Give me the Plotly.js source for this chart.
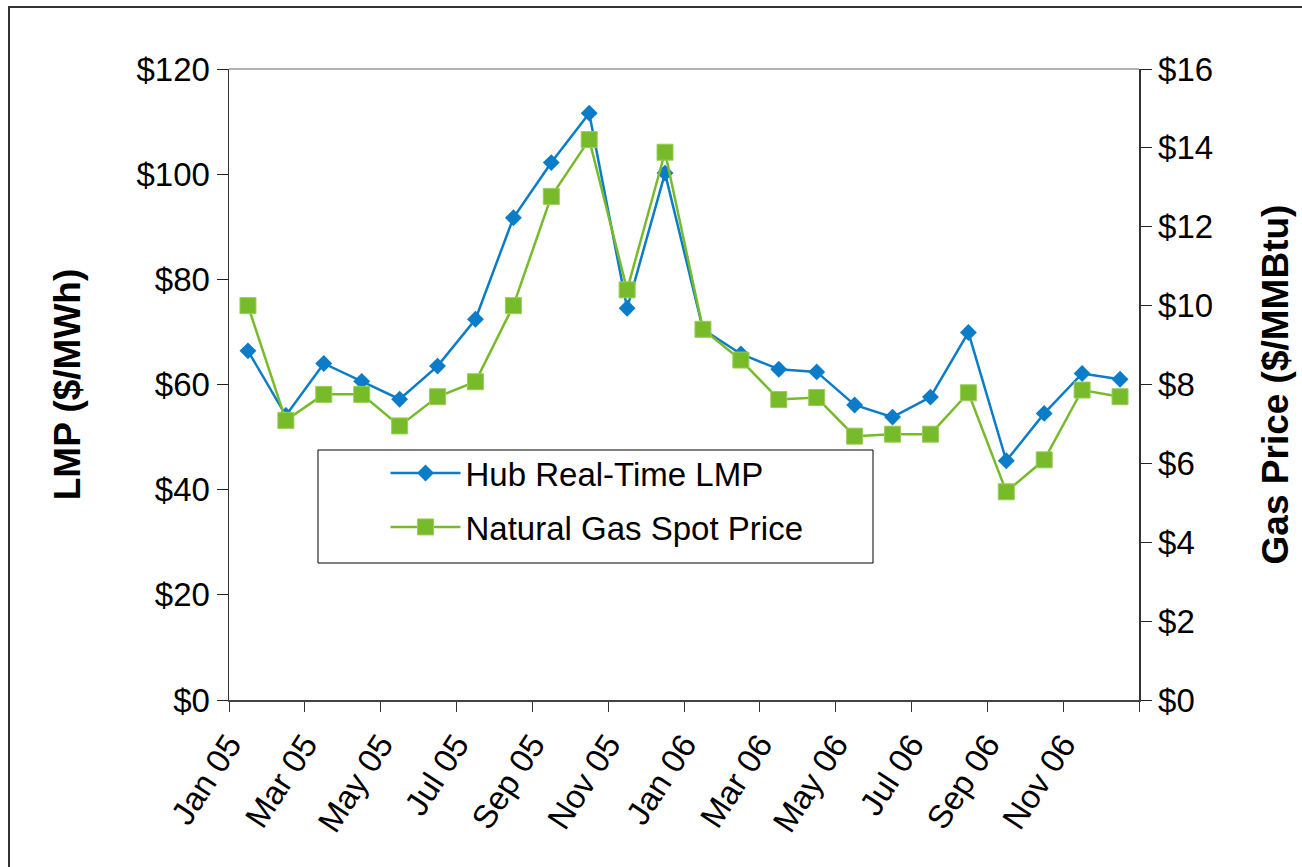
<!DOCTYPE html>
<html>
<head>
<meta charset="utf-8">
<script src="https://cdn.plot.ly/plotly-3.0.1.min.js"></script>
<style>
  html, body { margin: 0; padding: 0; background: #fff; }
  #wrap { position: relative; width: 1302px; height: 867px; overflow: hidden; }
  #frame { position: absolute; left: 8px; top: 6px; width: 1400px; height: 1000px;
           border-left: 2px solid #333; border-top: 2px solid #333; pointer-events: none; }
  #chart { position: absolute; left: 0; top: 0; width: 1302px; height: 867px; }
</style>
</head>
<body>
<div id="wrap">
  <div id="chart"></div>
  <div id="frame"></div>
</div>
<script>
// Monthly categories (Jan 05 .. Dec 06)
const months = ["Jan 05","Feb 05","Mar 05","Apr 05","May 05","Jun 05","Jul 05","Aug 05","Sep 05","Oct 05","Nov 05","Dec 05",
                "Jan 06","Feb 06","Mar 06","Apr 06","May 06","Jun 06","Jul 06","Aug 06","Sep 06","Oct 06","Nov 06","Dec 06"];
// Hub Real-Time LMP ($/MWh)
const lmp = [66.4, 54.1, 64.0, 60.6, 57.2, 63.5, 72.4, 91.7, 102.2, 111.6, 74.5, 100.2,
             70.5, 65.8, 62.9, 62.4, 56.1, 53.8, 57.6, 69.9, 45.5, 54.5, 62.1, 61.0];
// Natural Gas Spot Price ($/MMBtu)
const gas = [10.0, 7.09, 7.75, 7.75, 6.95, 7.69, 8.07, 10.0, 12.77, 14.21, 10.40, 13.89,
             9.40, 8.62, 7.62, 7.67, 6.69, 6.74, 6.74, 7.79, 5.28, 6.09, 7.86, 7.69];
// Tick labels shown every second month
const tickLabels = ["Jan 05","Mar 05","May 05","Jul 05","Sep 05","Nov 05","Jan 06","Mar 06","May 06","Jul 06","Sep 06","Nov 06"];

const xPos = months.map((m, i) => i + 0.5);
const tickVals = tickLabels.map(t => months.indexOf(t)).concat([months.length]);
const tickText = tickLabels.concat([""]);

const FONT = "Liberation Sans, Arial, sans-serif";
const BLUE = "#0A7CC8";
const GREEN = "#77BB2B";

const traces = [
  {
    x: xPos, y: lmp, name: "Hub Real-Time LMP", type: "scatter", mode: "lines+markers",
    yaxis: "y", legendgroup: "a",
    line: { color: BLUE, width: 2.5 },
    marker: { symbol: "diamond", size: 13, color: BLUE }
  },
  {
    x: xPos, y: gas, name: "Natural Gas Spot Price", type: "scatter", mode: "lines+markers",
    yaxis: "y2", legendgroup: "b",
    line: { color: GREEN, width: 2.5 },
    marker: { symbol: "square", size: 16, color: GREEN, line: { color: "#9ACD5A", width: 1 } }
  }
];

const layout = {
  width: 1302, height: 867,
  margin: { l: 229, r: 163, t: 69, b: 167 },
  paper_bgcolor: "#fff", plot_bgcolor: "#fff",
  font: { family: FONT, size: 33, color: "#000" },
  showlegend: true,
  legend: {
    x: 0.172, y: 0.404, xanchor: "left", yanchor: "top",
    bgcolor: "rgba(0,0,0,0)", borderwidth: 0,
    font: { family: FONT, size: 33, color: "#000" },
    tracegroupgap: 8,
    itemwidth: 70
  },
  xaxis: {
    range: [0, months.length], fixedrange: true,
    tickmode: "array", tickvals: tickVals, ticktext: tickText,
    tickangle: -57, ticks: "outside", ticklen: 10, tickcolor: "#333", tickwidth: 1,
    showline: true, linecolor: "#444", linewidth: 2,
    showgrid: false, zeroline: false,
    tickfont: { family: FONT, size: 33, color: "#000" }
  },
  yaxis: {
    range: [0, 120], dtick: 20, tick0: 0, tickprefix: "$",
    ticks: "outside", ticklen: 11, tickcolor: "#222", tickwidth: 1,
    showline: true, linecolor: "#333", linewidth: 1.5,
    showgrid: false, zeroline: false,
    tickfont: { family: FONT, size: 33, color: "#000" },
    title: { text: "<b>LMP ($/MWh)</b>", font: { family: FONT, size: 37, color: "#000" }, standoff: 44 }
  },
  yaxis2: {
    range: [0, 16], dtick: 2, tick0: 0, tickprefix: "$",
    overlaying: "y", side: "right",
    ticks: "outside", ticklen: 11, tickcolor: "#222", tickwidth: 1,
    showline: true, linecolor: "#333", linewidth: 1.5,
    showgrid: false, zeroline: false,
    tickfont: { family: FONT, size: 33, color: "#000" },
    title: { text: "<b>Gas Price ($/MMBtu)</b>", font: { family: FONT, size: 37, color: "#000" }, standoff: 50 }
  },
  shapes: [
    { type: "line", xref: "paper", yref: "paper", x0: 0, x1: 1, y0: 1, y1: 1,
      line: { color: "#999", width: 1.5 }, layer: "below" },
    { type: "rect", xref: "paper", yref: "paper", x0: 0.0978, x1: 0.7077, y0: 0.2171, y1: 0.3962,
      fillcolor: "#fff", line: { color: "#000", width: 1 }, layer: "below" }
  ]
};

Plotly.newPlot("chart", traces, layout, { staticPlot: true, displayModeBar: false });
</script>
</body>
</html>
